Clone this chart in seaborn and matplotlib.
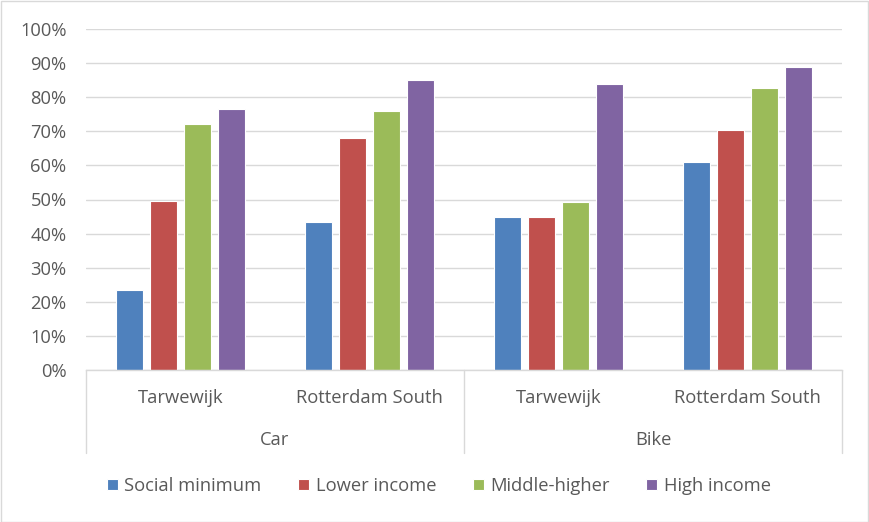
import matplotlib
matplotlib.use("Agg")
import matplotlib.pyplot as plt
import seaborn as sns
import pandas as pd
from matplotlib.patches import Rectangle
from matplotlib.ticker import PercentFormatter

# ---- data ----
modes = ["Car", "Bike"]
areas = ["Tarwewijk", "Rotterdam South"]
series = ["Social minimum", "Lower income", "Middle-higher", "High income"]
social_minimum = [0.235, 0.435, 0.450, 0.610]
lower_income = [0.495, 0.680, 0.448, 0.703]
middle_higher = [0.722, 0.760, 0.493, 0.826]
high_income = [0.765, 0.849, 0.838, 0.890]
yticks = [0.0, 0.1, 0.2, 0.3, 0.4, 0.5, 0.6, 0.7, 0.8, 0.9, 1.0]
colors = ["#4F81BD", "#C0504D", "#9BBB59", "#8064A2"]

cats = [f"{m}|{a}" for m in modes for a in areas]
values = [social_minimum, lower_income, middle_higher, high_income]
rows = []
for s, vals in zip(series, values):
    for c, v in zip(cats, vals):
        rows.append({"cat": c, "series": s, "value": v})
df = pd.DataFrame(rows)

sns.set_style("white")
plt.rcParams["font.family"] = ["Open Sans", "DejaVu Sans"]
text_color = "#595959"
grid_color = "#D9D9D9"
fs = 13.2

W, H = 869, 522
fig = plt.figure(figsize=(W / 100, H / 100), dpi=100)
left, right, top, bottom = 86, 842, 29, 370
ax = fig.add_axes([left / W, 1 - bottom / H, (right - left) / W, (bottom - top) / H])

sns.barplot(data=df, x="cat", y="value", hue="series", order=cats,
            hue_order=series, palette=colors, width=0.72, gap=0.2,
            edgecolor="white", linewidth=0.8, saturation=1, ax=ax, legend=True)

ax.set_ylim(0, 1)
ax.set_xlim(-0.5, len(cats) - 0.5)
ax.set_yticks(yticks)
ax.yaxis.set_major_formatter(PercentFormatter(1.0, decimals=0))
ax.grid(axis="y", color=grid_color, linewidth=1)
ax.set_axisbelow(True)
for sp in ["top", "right", "left"]:
    ax.spines[sp].set_visible(False)
ax.spines["bottom"].set_color(grid_color)
ax.spines["bottom"].set_linewidth(1)
ax.set_xlabel("")
ax.set_ylabel("")
ax.tick_params(axis="y", length=0, pad=14, labelsize=fs, labelcolor=text_color)
ax.set_xticks(range(len(cats)))
ax.set_xticklabels([c.split("|")[1] for c in cats])
ax.tick_params(axis="x", length=0, pad=14, labelsize=fs, labelcolor=text_color)

# multi-level category axis
trans = ax.get_xaxis_transform()
sep_bottom = -(453 - bottom) / (bottom - top)
for xpos in [-0.5, 1.5, 3.5]:
    ax.plot([xpos, xpos], [0, sep_bottom], transform=trans, color=grid_color,
            linewidth=1, clip_on=False)
group_y = -(440 - bottom) / (bottom - top)
for i, m in enumerate(modes):
    ax.text(i * 2 + 0.5, group_y, m, transform=trans, ha="center", va="center",
            fontsize=fs, color=text_color)

# legend
handles, labels = ax.get_legend_handles_labels()
ax.get_legend().remove()
fig.legend(handles, labels, loc="center", bbox_to_anchor=(0.505, 1 - 486 / H),
           ncol=4, frameon=False, handlelength=0.6, handleheight=0.6,
           handletextpad=0.35, columnspacing=2.0, fontsize=fs,
           labelcolor=text_color)

# figure border
fig.patches.append(Rectangle((0.5 / W, 0.5 / H), 1 - 1.5 / W, 1 - 1.5 / H,
                             transform=fig.transFigure, fill=False,
                             edgecolor=grid_color, linewidth=1))

fig.savefig("out.png", dpi=100)
